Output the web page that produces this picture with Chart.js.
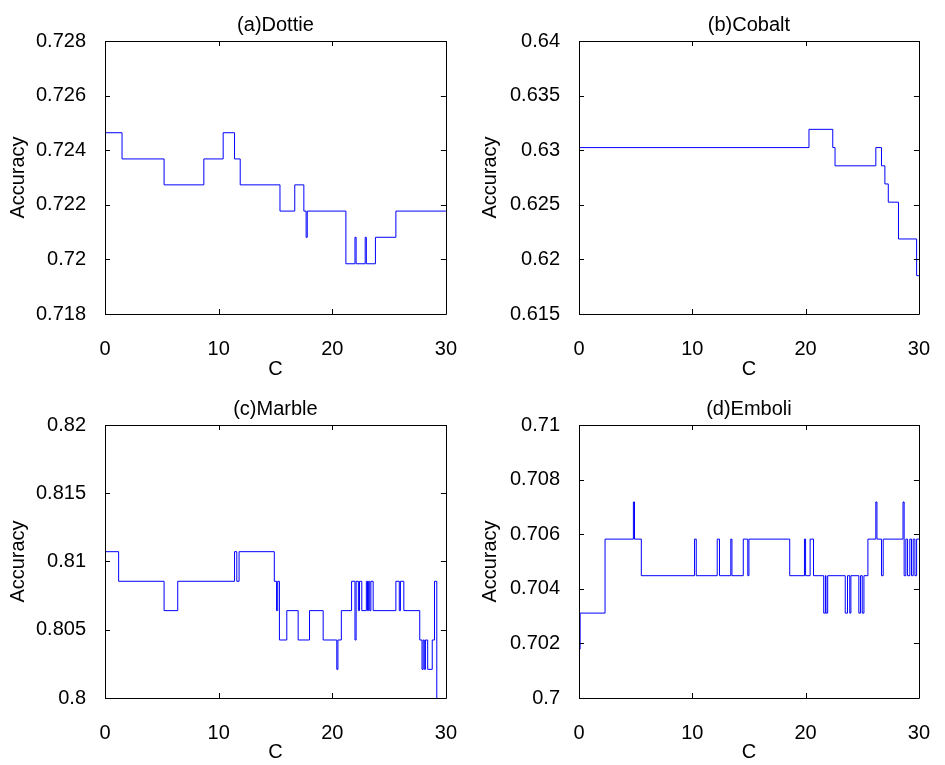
<!DOCTYPE html>
<html>
<head>
<meta charset="utf-8">
<script src="https://cdn.jsdelivr.net/npm/chart.js@4.4.1/dist/chart.umd.min.js"></script>
<style>
  body { margin: 0; background: #fff; }
  canvas { position: absolute; }
</style>
</head>
<body>
<canvas id="dottie" width="472" height="382" style="left:0;top:0"></canvas>
<canvas id="cobalt" width="473" height="382" style="left:472px;top:0"></canvas>
<canvas id="marble" width="472" height="383" style="left:0;top:382px"></canvas>
<canvas id="emboli" width="473" height="383" style="left:472px;top:382px"></canvas>
<script>
// x ticks shared by all four panels
const xTicks = [0, 10, 20, 30];

// (a) Dottie - C where each step starts, accuracy of that step
const dottieC = [0, 1.5, 5.2, 8.7, 10.4, 11.4, 11.9, 15.4, 16.7, 17.5, 17.7, 17.8, 21.2, 22.0, 22.1, 22.9, 23.0, 23.8, 25.6, 30];
const dottieAcc = [0.72464, 0.72368, 0.72273, 0.72368, 0.72464, 0.72368, 0.72273, 0.72177, 0.72273, 0.72177, 0.72081, 0.72177, 0.71984, 0.72081, 0.71984, 0.72081, 0.71984, 0.72081, 0.72177, 0.72177];
const dottieTicks = [0.718, 0.72, 0.722, 0.724, 0.726, 0.728];

// (b) Cobalt
const cobaltC = [0, 20.3, 22.4, 22.6, 26.2, 26.7, 27.0, 27.3, 28.2, 29.8, 30];
const cobaltAcc = [0.63024, 0.63191, 0.63024, 0.62857, 0.63024, 0.62857, 0.62691, 0.62524, 0.62187, 0.61851, 0.61851];
const cobaltTicks = [0.615, 0.62, 0.625, 0.63, 0.635, 0.64];

// (c) Marble
const marbleC = [0, 1.2, 5.2, 6.4, 11.4, 11.6, 11.8, 14.9, 15.1, 15.2, 15.35, 16.0, 17.0, 18.0, 19.2, 20.4, 20.5, 20.8, 21.7, 22.0, 22.1, 22.3, 22.4, 22.6, 23.0, 23.1, 23.2, 23.3, 23.4, 23.6, 25.6, 25.9, 26.0, 26.3, 27.7, 27.9, 28.0, 28.1, 28.2, 28.4, 28.8, 29.0, 29.2, 30];
const marbleAcc = [0.81072, 0.80855, 0.8064, 0.80855, 0.81072, 0.80855, 0.81072, 0.80855, 0.8064, 0.80855, 0.80425, 0.8064, 0.80425, 0.8064, 0.80425, 0.8021, 0.80425, 0.8064, 0.80855, 0.80425, 0.80855, 0.8064, 0.80855, 0.8064, 0.80855, 0.8064, 0.80855, 0.8064, 0.80855, 0.8064, 0.80855, 0.8064, 0.80855, 0.8064, 0.80425, 0.8021, 0.80425, 0.8021, 0.80425, 0.8021, 0.80425, 0.80855, 0.79995, 0.79995];
const marbleTicks = [0.8, 0.805, 0.81, 0.815, 0.82];

// (d) Emboli
const emboliC = [0, 0.1, 2.3, 4.8, 4.9, 5.5, 10.2, 10.35, 12.2, 12.4, 13.4, 13.5, 14.5, 14.9, 15.0, 18.6, 19.9, 20.0, 20.4, 20.7, 21.6, 21.75, 21.8, 21.95, 23.5, 23.7, 23.9, 24.0, 24.7, 24.85, 25.0, 25.15, 25.5, 26.2, 26.3, 26.7, 26.85, 28.6, 28.7, 28.85, 29.0, 29.2, 29.35, 29.5, 29.65, 29.8, 30];
const emboliAcc = [0.70179, 0.70311, 0.70582, 0.70718, 0.70582, 0.70448, 0.70582, 0.70448, 0.70582, 0.70448, 0.70582, 0.70448, 0.70582, 0.70448, 0.70582, 0.70448, 0.70582, 0.70448, 0.70582, 0.70448, 0.70311, 0.70448, 0.70311, 0.70448, 0.70311, 0.70448, 0.70311, 0.70448, 0.70311, 0.70448, 0.70311, 0.70448, 0.70582, 0.70718, 0.70582, 0.70448, 0.70582, 0.70718, 0.70448, 0.70582, 0.70448, 0.70582, 0.70448, 0.70582, 0.70448, 0.70582, 0.70582];
const emboliTicks = [0.7, 0.702, 0.704, 0.706, 0.708, 0.71];

Chart.defaults.font.family = "'Liberation Sans', Arial, sans-serif";
Chart.defaults.font.size = 20;
Chart.defaults.color = '#000';

// matlab style box with inward ticks on all four sides
const boxPlugin = {
    id: 'box',
    afterDraw(chart) {
        const a = chart.chartArea;
        const c = chart.ctx;
        const tl = 5;
        c.save();
        c.strokeStyle = '#000';
        c.lineWidth = 1;
        c.beginPath();
        c.rect(Math.round(a.left) + 0.5, Math.round(a.top) + 0.5, Math.round(a.right - a.left), Math.round(a.bottom - a.top));
        chart.scales.x.ticks.forEach(t => {
            const px = Math.round(chart.scales.x.getPixelForValue(t.value)) + 0.5;
            c.moveTo(px, a.bottom); c.lineTo(px, a.bottom - tl);
            c.moveTo(px, a.top); c.lineTo(px, a.top + tl);
        });
        chart.scales.y.ticks.forEach(t => {
            const py = Math.round(chart.scales.y.getPixelForValue(t.value)) + 0.5;
            c.moveTo(a.left, py); c.lineTo(a.left + tl, py);
            c.moveTo(a.right, py); c.lineTo(a.right - tl, py);
        });
        c.stroke();
        c.restore();
    }
};

function makeChart(id, title, cs, accs, yTicks, right, lower) {
    const pts = cs.map((c, i) => ({x: c, y: accs[i]}));
    return new Chart(document.getElementById(id), {
        type: 'line',
        data: {
            datasets: [{
                data: pts,
                borderColor: '#0000ff',
                borderWidth: 1,
                pointRadius: 0,
                stepped: true,
                fill: false
            }]
        },
        options: {
            responsive: false,
            animation: false,
            layout: {
                padding: {left: 0, right: right ? 14 : 16, top: 0, bottom: 0}
            },
            plugins: {
                legend: {display: false},
                tooltip: {enabled: false},
                title: {
                    display: true,
                    fullSize: false,
                    text: title,
                    font: {size: 20, weight: 'normal'},
                    padding: {top: lower ? 15 : 13, bottom: 4}
                }
            },
            scales: {
                x: {
                    type: 'linear',
                    min: 0,
                    max: 30,
                    grid: {display: false},
                    border: {display: false},
                    afterBuildTicks: ax => { ax.ticks = xTicks.map(v => ({value: v})); },
                    ticks: {padding: 15, maxRotation: 0, autoSkip: false},
                    title: {display: true, text: 'C', padding: {top: 0, bottom: 1}},
                    afterFit: ax => { ax.height = lower ? 67 : 68; }
                },
                y: {
                    type: 'linear',
                    min: yTicks[0],
                    max: yTicks[yTicks.length - 1],
                    grid: {display: false},
                    border: {display: false},
                    afterBuildTicks: ax => { ax.ticks = yTicks.map(v => ({value: v})); },
                    ticks: {padding: 11, autoSkip: false, callback: v => String(v)},
                    title: {display: true, text: 'Accuracy', padding: {top: 6, bottom: 0}},
                    afterFit: ax => { ax.width = right ? 107 : 105; }
                }
            }
        },
        plugins: [boxPlugin]
    });
}

makeChart('dottie', '(a)Dottie', dottieC, dottieAcc, dottieTicks, false, false);
makeChart('cobalt', '(b)Cobalt', cobaltC, cobaltAcc, cobaltTicks, true, false);
makeChart('marble', '(c)Marble', marbleC, marbleAcc, marbleTicks, false, true);
makeChart('emboli', '(d)Emboli', emboliC, emboliAcc, emboliTicks, true, true);
</script>
</body>
</html>
